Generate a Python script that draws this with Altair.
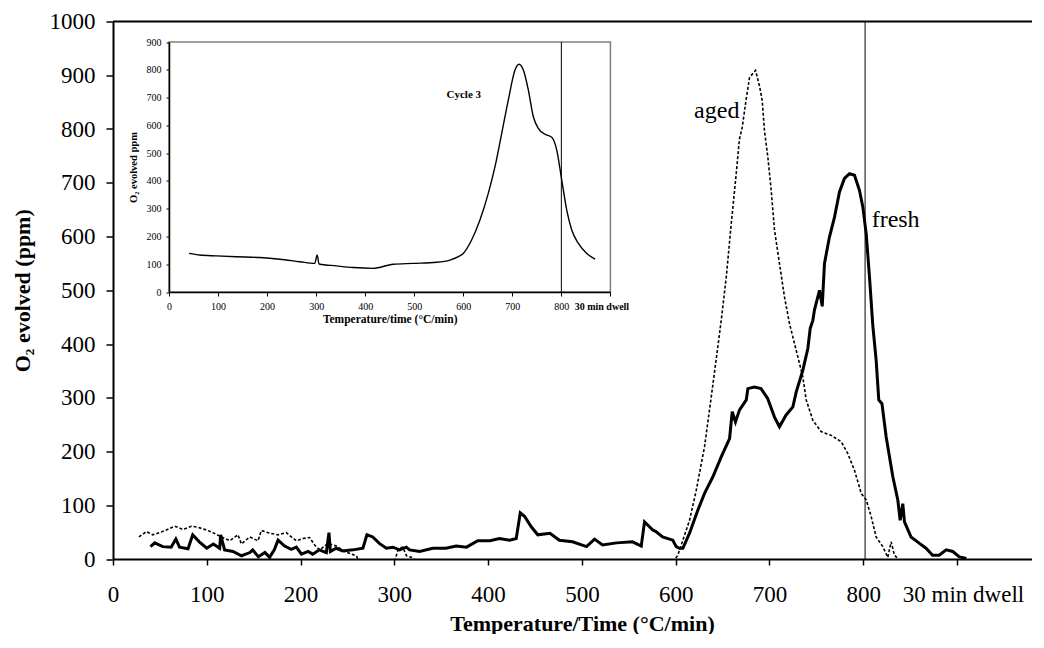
import altair as alt
import pandas as pd

FONT = "Liberation Serif"

# ---------------- data ----------------
fresh_t = [40, 44.5, 53, 62, 67, 71, 80, 85, 92, 100, 107, 113.8, 114.8, 119, 128, 137, 146, 149, 155, 162,
           167, 172, 176, 183, 190, 195.5, 201, 208, 213, 220, 227.5, 230.3, 231.8, 238, 245, 256, 266.5, 270.8,
           277, 284, 291.5, 298.5, 305.6, 312.8, 316.3, 327, 341, 355, 366, 377, 389, 402, 412, 423, 430, 434.3,
           439, 446, 453, 466, 476, 490, 505, 513.5, 522, 537, 554, 563.3, 566.8, 575.7, 579, 586, 597, 600.6,
           604, 607.7, 614.8, 623.7, 630.8, 639.7, 648.6, 657.5, 660.3, 663.8, 668, 675.3, 677, 684, 691, 698,
           705.4, 710.7, 717.8, 725, 728.6, 735.6, 741, 743.5, 746.3, 748, 753.4, 756.3, 758.7, 764, 769.4, 774.7,
           780, 785.4, 790.7, 796, 799.6, 803.2, 806.7, 810.2, 813.8, 816.6, 820, 824.5, 831.6, 836.9, 839.4,
           842.2, 844, 851, 860, 867, 874, 881, 888.5, 895.5, 902.6, 910]
fresh_o2 = [23, 30, 23, 22, 37, 22, 19, 45, 32, 20, 28, 20, 45, 17, 14, 6, 12, 17, 4, 12,
            3, 17, 35, 24, 18, 22, 9, 14, 9, 17, 12, 49, 14, 20, 15, 17, 20, 45,
            41, 29, 20, 22, 17, 22, 17, 14, 20, 20, 24, 22, 34, 34, 38, 35, 38, 86,
            79, 60, 45, 48, 35, 32, 23, 37, 26, 30, 32, 24, 69, 54, 51, 41, 35, 23,
            20, 20, 48, 91, 122, 153, 190, 224, 274, 255, 277, 296, 317, 320, 317, 299,
            264, 246, 268, 283, 311, 351, 392, 429, 444, 463, 500, 470, 550, 599, 636, 683,
            708, 717, 714, 686, 655, 605, 525, 435, 370, 296, 289, 227, 153, 110, 72,
            103, 69, 41, 29, 20, 7, 7, 17, 14, 4, 1]

aged_t = [27.7, 35.6, 42.6, 49.8, 56.9, 65.8, 74.6, 83.6, 90.6, 99.6, 106.6, 115.6, 124.4, 133.3, 136.9,
          145.7, 154.6, 158.2, 167, 176, 184.9, 190.2, 195.5, 202.6, 209.7, 215, 220.4, 229.2, 238.2, 247,
          259.5, 264, 300, 304, 309, 313, 320, 326, 595, 600.6, 602.3, 614.8, 622, 630.8, 638, 645, 648.6,
          654, 659.3, 664.6, 668, 671, 675, 678.8, 685.2, 689.4, 692.3, 694.7, 698.3, 701.9, 705.4, 710.7,
          716, 721.4, 728.6, 735.6, 739.2, 746.3, 755.2, 765.9, 776.6, 783.6, 790.7, 797.9, 803.2, 808.5,
          813.8, 820.9, 826.2, 829.8, 833.3, 836.9, 842]
aged_o2 = [41, 51, 45, 49, 54, 61, 55, 61, 59, 54, 49, 41, 34, 45, 28,
           41, 34, 53, 48, 45, 49, 41, 34, 38, 40, 26, 17, 29, 24, 14,
           6, -10, -8, 18, 22, 6, 2, -10, -15, 3, 7, 72, 128, 209, 302, 395, 444,
           525, 624, 717, 781, 803, 853, 896, 909, 880, 853, 797, 748, 686, 612, 550,
           488, 438, 388, 339, 296, 258, 237, 230, 218, 196, 165, 122, 110, 79,
           41, 23, 3, 32, 7, 1, -10]

cycle3_t = [40.8, 62.7, 96.7, 137.5, 185, 226, 266.7, 297.3, 302, 306, 341.6, 375.5, 416.3, 457, 498,
            545.7, 572.9, 590, 600, 617, 634, 651, 664.7, 678.4, 691.8, 705.5, 713.7, 722.5, 732.7,
            742.9, 753, 766.7, 780.4, 790.6, 800.8, 811, 821.2, 834.7, 851.8, 868.8]
cycle3_o2 = [139, 133, 130, 127, 124, 118, 109, 103, 133, 101, 94, 88, 85, 100, 103,
             107, 115, 127, 139, 187, 259, 355, 451, 571, 691, 799, 820, 799, 727,
             631, 589, 568, 557, 511, 403, 295, 223, 175, 139, 118]

main_x_ticks = [0, 100, 200, 300, 400, 500, 600, 700, 800, 900]
main_y_ticks = [0, 100, 200, 300, 400, 500, 600, 700, 800, 900, 1000]
inset_ticks = [0, 100, 200, 300, 400, 500, 600, 700, 800, 900]
dwell_label_value = 900

main_dwell_t = [802]
inset_dwell_t = [800]

curve_labels = ["aged", "fresh"]
curve_label_t = [668, 809]
curve_label_o2 = [833, 630]
curve_label_align = ["right", "left"]

inset_label = ["Cycle 3"]
inset_label_t = [601]
inset_label_o2 = [709]

# ---------------- layout ----------------
W = 919
H = 537.5
IN_LEFT, IN_RIGHT = 56, 497.4
IN_TOP, IN_BOTTOM = 20.5, 270.5

fresh_df = pd.DataFrame({"t": fresh_t, "o2": fresh_o2})
aged_df = pd.DataFrame({"t": aged_t, "o2": aged_o2})
cyc_df = pd.DataFrame({"ti": cycle3_t, "oi": cycle3_o2})

xs = alt.Scale(domain=[0, 980], nice=False, zero=False)
ys = alt.Scale(domain=[0, 1000], nice=False)

dwell_expr = f"datum.value == {dwell_label_value} ? '30 min dwell' : datum.label"
dwell_test = f"datum.value == {dwell_label_value}"

x_axis = alt.Axis(
    values=main_x_ticks, labelExpr=dwell_expr, format="d", grid=False,
    labelFont=FONT, labelFontSize=23, labelColor="black", labelPadding=18,
    labelFlush=False, labelOverlap=False,
    labelOffset={"condition": {"test": dwell_test, "value": 6}, "value": 0},
    tickSize=6, tickColor="black", tickWidth=1.5,
    domainColor="black", domainWidth=2,
    title="Temperature/Time  (°C/min)", titleFont=FONT, titleFontSize=22,
    titleFontWeight="bold", titleColor="black",
    titleX=469, titleY=64, titleAlign="center", titleBaseline="middle",
)
y_axis = alt.Axis(
    values=main_y_ticks, format="d", grid=False,
    labelFont=FONT, labelFontSize=23, labelColor="black", labelPadding=11,
    labelOverlap=False,
    tickSize=7, tickColor="black", tickWidth=1.5,
    domainColor="black", domainWidth=2,
    title="O₂ evolved (ppm)", titleFont=FONT, titleFontSize=22,
    titleFontWeight="bold", titleColor="black",
    titleX=-91, titleAlign="center", titleBaseline="middle",
)

fresh = alt.Chart(fresh_df).mark_line(color="black", strokeWidth=3, clip=True).encode(
    x=alt.X("t:Q", scale=xs, axis=x_axis),
    y=alt.Y("o2:Q", scale=ys, axis=y_axis),
)
aged = alt.Chart(aged_df).mark_line(color="black", strokeWidth=1.6, strokeDash=[3, 2], clip=True).encode(
    x=alt.X("t:Q", scale=xs),
    y=alt.Y("o2:Q", scale=ys),
)
dwell_main = alt.Chart(pd.DataFrame({"t": main_dwell_t, "o2": [0], "o2e": [1000]})).mark_rule(
    color="black", strokeWidth=1).encode(
    x=alt.X("t:Q", scale=xs), y=alt.Y("o2:Q", scale=ys), y2="o2e:Q")
top_line = alt.Chart(pd.DataFrame({"a": [0]})).mark_rule(color="black", strokeWidth=2).encode(
    x=alt.value(0), x2=alt.value(W), y=alt.value(0))
lab_df = pd.DataFrame({"t": curve_label_t, "o2": curve_label_o2, "label": curve_labels,
                       "al": curve_label_align})
lab_aged = alt.Chart(lab_df[lab_df["al"] == "right"]).mark_text(
    align="right", baseline="middle", font=FONT, fontSize=24, color="black").encode(
    x=alt.X("t:Q", scale=xs), y=alt.Y("o2:Q", scale=ys), text="label:N")
lab_fresh = alt.Chart(lab_df[lab_df["al"] == "left"]).mark_text(
    align="left", baseline="middle", font=FONT, fontSize=24, color="black").encode(
    x=alt.X("t:Q", scale=xs), y=alt.Y("o2:Q", scale=ys), text="label:N")

main = alt.layer(fresh, aged, dwell_main, top_line, lab_aged, lab_fresh)

# ---------------- inset ----------------
ixs = alt.Scale(domain=[0, 900], range=[IN_LEFT, IN_RIGHT], nice=False, zero=False)
iys = alt.Scale(domain=[0, 900], range=[IN_BOTTOM, IN_TOP], nice=False)

ix_axis = alt.Axis(
    orient="bottom", offset=-(H - IN_BOTTOM), zindex=1, values=inset_ticks, labelExpr=dwell_expr,
    labelFontWeight={"condition": {"test": dwell_test, "value": "bold"}, "value": "normal"},
    labelOffset={"condition": {"test": dwell_test, "value": -9}, "value": 0},
    grid=False, labelFont=FONT, labelFontSize=10, labelColor="black", labelPadding=5,
    labelFlush=False, labelOverlap=False,
    tickSize=4, tickColor="black", domainColor="black", domainWidth=1.5,
    title="Temperature/time (°C/min)", titleFont=FONT, titleFontSize=11.5, titleFontWeight="bold",
    titleColor="black", titleY=27, titleBaseline="middle",
)
iy_axis = alt.Axis(
    orient="left", offset=-IN_LEFT, zindex=1, values=inset_ticks, grid=False,
    labelFont=FONT, labelFontSize=10, labelColor="black", labelPadding=5, labelOverlap=False,
    tickSize=3, tickColor="black", domainColor="black", domainWidth=1.5,
    title="O₂ evolved ppm", titleFont=FONT, titleFontSize=10.5, titleFontWeight="bold",
    titleColor="black", titleX=-36, titleAlign="center", titleBaseline="middle",
)

frame = alt.Chart(pd.DataFrame({"ti": [0], "ti2": [900], "oi": [0], "oi2": [900]})).mark_rect(
    fill="white", stroke="#808080", strokeWidth=1.5).encode(
    x=alt.X("ti:Q", scale=ixs, axis=ix_axis), x2="ti2:Q",
    y=alt.Y("oi:Q", scale=iys, axis=iy_axis), y2="oi2:Q")
cyc_line = alt.Chart(cyc_df).mark_line(color="black", strokeWidth=1.4, interpolate="monotone").encode(
    x=alt.X("ti:Q", scale=ixs), y=alt.Y("oi:Q", scale=iys))
dwell_inset = alt.Chart(pd.DataFrame({"ti": inset_dwell_t, "oi": [0], "oie": [900]})).mark_rule(
    color="black", strokeWidth=1).encode(
    x=alt.X("ti:Q", scale=ixs), y=alt.Y("oi:Q", scale=iys), y2="oie:Q")
cyc_text = alt.Chart(pd.DataFrame({"ti": inset_label_t, "oi": inset_label_o2, "label": inset_label})).mark_text(
    font=FONT, fontSize=11, fontWeight="bold", color="black", align="center", baseline="middle").encode(
    x=alt.X("ti:Q", scale=ixs), y=alt.Y("oi:Q", scale=iys), text="label:N")

inset = alt.layer(frame, cyc_line, dwell_inset, cyc_text)

chart = alt.layer(main, inset).resolve_scale(x="independent", y="independent").properties(
    width=W, height=H,
    autosize=alt.AutoSizeParams(type="none"),
    padding={"left": 105, "top": 13.5, "right": 0, "bottom": 75},
    background="white",
).configure_view(strokeWidth=0)

chart.save("out.html", embed_options={"renderer": "svg", "actions": False})
